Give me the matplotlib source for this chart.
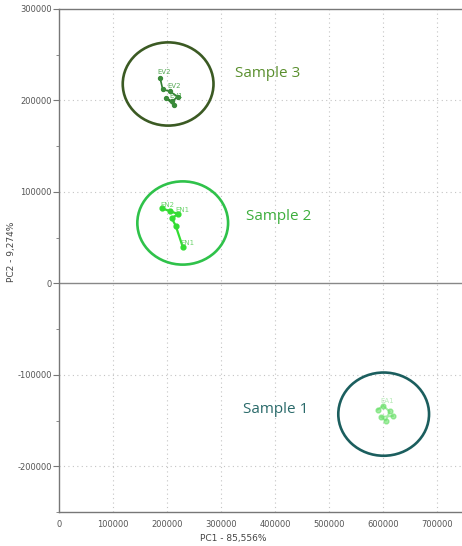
import matplotlib.pyplot as plt
from matplotlib.patches import Ellipse

plt.rcParams['axes.unicode_minus'] = False

# PCA scores (PC1, PC2)
s3_x = [187000, 192000, 205000, 220000, 209000, 198000, 212000]
s3_y = [225000, 212000, 210000, 204000, 199000, 203000, 195000]
s3_labels = ["EV2", "", "EV2", "", "EV1", "", ""]

s2_x = [191000, 205000, 220000, 209000, 216000, 229000]
s2_y = [82000, 79000, 76000, 71000, 63000, 40000]
s2_labels = ["EN2", "", "EN1", "", "", "EN1"]

s1_x = [590000, 600000, 612000, 605000, 596000, 618000]
s1_y = [-138000, -134000, -140000, -150000, -146000, -145000]
s1_labels = ["", "EA1", "", "", "", ""]

# sample circles: name, centre, colour of ring, colour of name
groups = [
    ("Sample 3", (202000, 218000), "#3b5a23", "#5a8f2e"),
    ("Sample 2", (229000, 66000), "#2fc24a", "#3cae3c"),
    ("Sample 1", (601000, -143000), "#1b5e5e", "#2a6a6a"),
]
name_pos = [(325000, 230000), (347000, 73000), (340000, -138000)]

fig = plt.figure(figsize=(4.62, 5.46), dpi=100)
ax = fig.add_axes([59 / 462, 1 - 512 / 546, 1 - 59 / 462, (512 - 9) / 546])

ax.set_xlim(0, 746000)
ax.set_ylim(-249000, 298000)

grid_c = "#c4c4c4"
for gx in range(100000, 800000, 100000):
    ax.axvline(gx, color=grid_c, lw=0.8, ls=(0, (1, 3)), zorder=0)
for gy in [-200000, -100000, 100000, 200000]:
    ax.axhline(gy, color=grid_c, lw=0.8, ls=(0, (1, 3)), zorder=0)
ax.axhline(0, color="#888888", lw=1.0, zorder=1)

for sp in ["left", "top", "bottom"]:
    ax.spines[sp].set_color("#777777")
    ax.spines[sp].set_linewidth(1.0)
ax.spines["right"].set_visible(False)

ax.set_xticks(range(0, 800000, 100000))
ax.set_yticks(range(-200000, 400000, 100000))
ax.set_yticks(range(-250000, 300000, 50000), minor=True)
ax.tick_params(axis="x", length=0, labelsize=6, labelcolor="#555555", pad=6)
ax.tick_params(axis="y", which="major", length=4, color="#777777",
               labelsize=6, labelcolor="#555555", pad=1)
ax.tick_params(axis="y", which="minor", length=2, color="#777777")

# sample 3 (dark green lines, light labels)
ax.plot(s3_x, s3_y, color="#2f7a2f", lw=1.2, zorder=3)
ax.scatter(s3_x, s3_y, s=8, color="#3a8a3a", zorder=3)
for px, py, t in zip(s3_x, s3_y, s3_labels):
    if t:
        ax.text(px - 4000, py + 4000, t, fontsize=5, color="#3a9a3a",
                alpha=0.85, zorder=4)

# sample 2 (bright green)
ax.plot(s2_x, s2_y, color="#33dd33", lw=1.6, zorder=3)
ax.scatter(s2_x, s2_y, s=12, color="#33dd33", zorder=3)
for px, py, t in zip(s2_x, s2_y, s2_labels):
    if t:
        ax.text(px - 4000, py + 2000, t, fontsize=5, color="#55cc55",
                alpha=0.85, zorder=4)

# sample 1 (faded green)
ax.plot(s1_x, s1_y, color="#66e066", lw=1.4, alpha=0.6, zorder=3)
ax.scatter(s1_x, s1_y, s=12, color="#66e066", alpha=0.6, zorder=3)
for px, py, t in zip(s1_x, s1_y, s1_labels):
    if t:
        ax.text(px - 6000, py + 3000, t, fontsize=5, color="#88dd88",
                alpha=0.6, zorder=4)

for (name, c, ring, tc), (tx, ty) in zip(groups, name_pos):
    ax.add_patch(Ellipse(c, 168000, 91000, fill=False, edgecolor=ring,
                         lw=1.9, zorder=5))
    ax.text(tx, ty, name, fontsize=11, color=tc, ha="left", va="center",
            family="Open Sans", zorder=6)

fig.text(233 / 462, 1 - 538 / 546, "PC1 - 85,556%", fontsize=6.5,
         color="#444444", ha="center", va="center")
fig.text(12 / 462, 1 - 252 / 546, "PC2 - 9,274%", fontsize=6.5,
         color="#444444", ha="center", va="center", rotation=90)

fig.savefig("out.png", dpi=100)
